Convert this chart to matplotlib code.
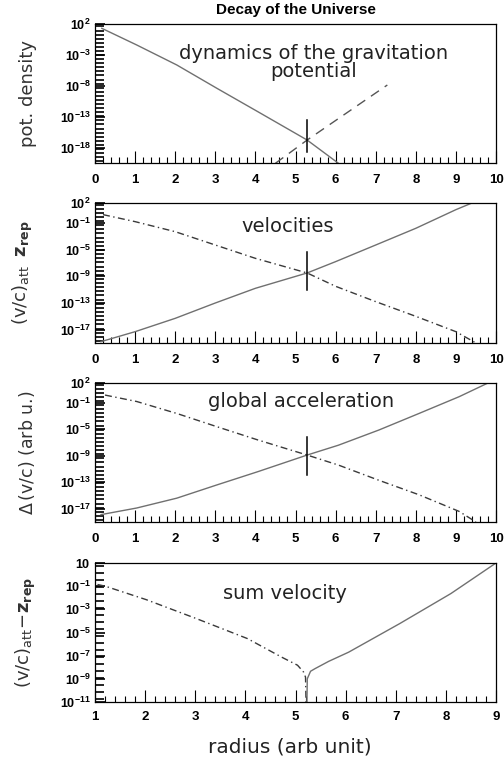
import numpy as np
import matplotlib
matplotlib.use("Agg")
import matplotlib.pyplot as plt
from matplotlib.ticker import FixedLocator, FuncFormatter, MultipleLocator, NullFormatter

plt.rcParams['font.family'] = ['DejaVu Sans']
plt.rcParams['mathtext.fontset'] = 'custom'
plt.rcParams['mathtext.rm'] = 'Liberation Sans'
plt.rcParams['mathtext.bf'] = 'Liberation Sans:bold'
plt.rcParams['mathtext.it'] = 'Liberation Sans:italic'

# ---- values ----
# panel 1: potential density
pot_x = [0.17, 1.04, 2.04, 3.04, 4.06, 5.07, 5.29, 6.07]
pot_y = [2.0e1, 4.1e-2, 2.4e-5, 4.1e-9, 6.9e-13, 1.2e-16, 1.8e-17, 3.2e-21]
pot_dash_x = [4.50, 5.29, 7.29]
pot_dash_y = [3.2e-21, 1.8e-17, 1.4e-8]
pot_bar = [3.2e-14, 2.5e-19]

# panel 2: velocities
vel_x = [0.15, 1.0, 2.0, 3.0, 4.0, 5.29, 6.0, 7.0, 8.0, 9.0, 9.4]
vel_solid = [1.6e-19, 5.0e-18, 5.0e-16, 1.0e-13, 1.6e-11, 3.2e-9, 1.6e-7, 5.0e-5, 1.6e-2, 1.0e1, 1.0e2]
vel_dd_x = [0.2, 1.0, 2.0, 3.0, 4.0, 5.29, 6.0, 7.0, 8.0, 9.0, 9.5]
vel_dd = [1.8, 0.16, 5.0e-3, 5.0e-5, 5.0e-7, 3.2e-9, 3.2e-11, 1.6e-13, 1.0e-15, 5.0e-18, 1.0e-19]
vel_bar = [5.0e-6, 7.9e-12]

# panel 3: global acceleration
acc_x = [0.15, 1.04, 2.04, 3.04, 4.06, 5.29, 6.07, 7.08, 8.08, 9.08, 9.8]
acc_solid = [1.3e-18, 1.3e-17, 4.0e-16, 4.0e-14, 4.0e-12, 1.3e-9, 4.0e-8, 7.9e-6, 2.5e-3, 0.85, 1.0e2]
acc_dd_x = [0.25, 1.04, 2.04, 3.04, 4.06, 5.29, 6.07, 7.08, 8.08, 9.08, 9.5]
acc_dd = [1.5, 0.16, 2.5e-3, 2.5e-5, 2.5e-7, 1.3e-9, 4.0e-11, 2.0e-13, 1.3e-15, 4.0e-18, 1.0e-19]
acc_bar = [7.9e-7, 1.3e-12]

# panel 4: sum velocity
sum_dd_x = [1.05, 1.21, 2.02, 3.02, 4.04, 4.72, 5.04, 5.16, 5.20, 5.215]
sum_dd = [0.14, 9.8e-2, 6.9e-3, 1.6e-4, 3.0e-6, 7.6e-8, 1.5e-8, 3.9e-9, 1.4e-9, 1e-12]
sum_x = [5.225, 5.235, 5.30, 5.39, 5.66, 6.06, 7.08, 8.10, 9.0]
sum_solid = [1e-12, 1.0e-9, 4.5e-9, 7.6e-9, 3.2e-8, 2.0e-7, 5.9e-5, 2.3e-2, 1.0e1]

cross_x = 5.29

# labelled decades per panel
exp1 = [2, -3, -8, -13, -18]
exp23 = [2, -1, -5, -9, -13, -17]
exp4 = [1, -1, -3, -5, -7, -9, -11]

SOLID = '#707070'
DDOT = '#3a3a3a'
TXT = 14


def fmt(v, pos):
    e = int(round(np.log10(v)))
    if e == 1:
        return r'$\mathbf{10}$'
    return r'$\mathbf{10^{%d}}$' % e


def style(ax, ylo, yhi, exps, step, xlo, xhi, xpad):
    ax.set_yscale('log')
    ax.set_ylim(10.0**ylo, 10.0**yhi)
    ax.set_xlim(xlo, xhi)
    ax.yaxis.set_major_locator(FixedLocator([10.0**e for e in exps]))
    ax.yaxis.set_major_formatter(FuncFormatter(fmt))
    # dense comb of ticks along the log axis
    ax.yaxis.set_minor_locator(FixedLocator(10.0**np.arange(ylo + step / 2, yhi, step)))
    ax.yaxis.set_minor_formatter(NullFormatter())
    ax.xaxis.set_major_locator(MultipleLocator(1))
    ax.xaxis.set_minor_locator(MultipleLocator(0.2))
    ax.tick_params(axis='x', which='both', direction='in', top=False, width=0.8)
    ax.tick_params(axis='y', which='both', direction='in', left=True, right=False,
                   width=1.2, color='black')
    ax.tick_params(axis='x', which='major', length=8.5, pad=xpad, labelsize=9.5)
    ax.tick_params(axis='x', which='minor', length=4)
    ax.tick_params(axis='y', which='major', length=7.5, pad=3, labelsize=9)
    ax.tick_params(axis='y', which='minor', length=6.5)
    for lab in ax.get_xticklabels():
        lab.set_fontweight('bold')
        lab.set_family('Liberation Sans')
    for s in ax.spines.values():
        s.set_linewidth(0.9)


fig = plt.figure(figsize=(5.04, 7.62), dpi=100)
L, W = 95 / 504, 401 / 504

ax1 = fig.add_axes([L, 1 - 163.3 / 762, W, 139.3 / 762])
ax2 = fig.add_axes([L, 1 - 343 / 762, W, 140 / 762])
ax3 = fig.add_axes([L, 1 - 522 / 762, W, 139 / 762])
ax4 = fig.add_axes([L, 1 - 702 / 762, W, 139 / 762])

# panel 1
ax1.plot(pot_x, pot_y, color=SOLID, lw=1.0)
ax1.plot(pot_dash_x, pot_dash_y, color='#555555', lw=1.0, dashes=(7, 5))
ax1.plot([cross_x, cross_x], pot_bar, color='k', lw=1.1)
style(ax1, -20.5, 2, exp1, 0.66, 0, 10, 8)
ax1.text(0.545, 0.725, 'dynamics of the gravitation\npotential', transform=ax1.transAxes,
         ha='center', va='center', multialignment='center', linespacing=0.95,
         fontsize=TXT, color='#222222')
ax1.set_ylabel('pot. density', fontsize=13, color='#333333')
ax1.yaxis.set_label_coords(-0.145, 0.5)

# panel 2
ax2.plot(vel_x, vel_solid, color=SOLID, lw=1.0)
ax2.plot(vel_dd_x, vel_dd, color=DDOT, lw=1.0, dashes=(5, 2.5, 1, 2.5))
ax2.plot([cross_x, cross_x], vel_bar, color='k', lw=1.1)
style(ax2, -19, 2, exp23, 0.62, 0, 10, 8)
ax2.text(0.48, 0.83, 'velocities', transform=ax2.transAxes,
         ha='center', va='center', fontsize=TXT, color='#222222')
ax2.set_ylabel(r'$(\mathrm{v/c})_{\mathrm{att}}\;\;\mathbf{z}_{\mathbf{rep}}$',
               fontsize=13, color='#333333', math_fontfamily='dejavusans')
ax2.yaxis.set_label_coords(-0.15, 0.5)

# panel 3
ax3.plot(acc_x, acc_solid, color=SOLID, lw=1.0)
ax3.plot(acc_dd_x, acc_dd, color=DDOT, lw=1.0, dashes=(5, 2.5, 1, 2.5))
ax3.plot([cross_x, cross_x], acc_bar, color='k', lw=1.1)
style(ax3, -19, 2, exp23, 0.62, 0, 10, 8)
ax3.text(0.515, 0.865, 'global acceleration', transform=ax3.transAxes,
         ha='center', va='center', fontsize=TXT, color='#222222')
ax3.set_ylabel(r'$\Delta\,$(v/c) (arb u.)', fontsize=12.5, color='#333333',
               math_fontfamily='dejavusans')
ax3.yaxis.set_label_coords(-0.145, 0.5)

# panel 4
ax4.plot(sum_dd_x, sum_dd, color=DDOT, lw=1.0, dashes=(5, 2.5, 1, 2.5))
ax4.plot(sum_x, sum_solid, color=SOLID, lw=1.0)
style(ax4, -11, 1, exp4, 0.6, 1, 9, 6.5)
ax4.text(0.474, 0.78, 'sum velocity', transform=ax4.transAxes,
         ha='center', va='center', fontsize=TXT, color='#222222')
ax4.set_ylabel(r'$(\mathrm{v/c})_{\mathrm{att}}\!-\!\mathbf{z}_{\mathbf{rep}}$',
               fontsize=13, color='#333333', math_fontfamily='dejavusans')
ax4.yaxis.set_label_coords(-0.142, 0.5)
ax4.set_xlabel('radius (arb unit)', fontsize=14.5, color='#222222')
ax4.xaxis.set_label_coords(0.487, -0.255)

fig.text(296 / 504, 1 - 10 / 762, 'Decay of the Universe', ha='center', va='center',
         fontsize=11, fontweight='bold', family='Liberation Sans')

fig.savefig('out.png', dpi=100)
